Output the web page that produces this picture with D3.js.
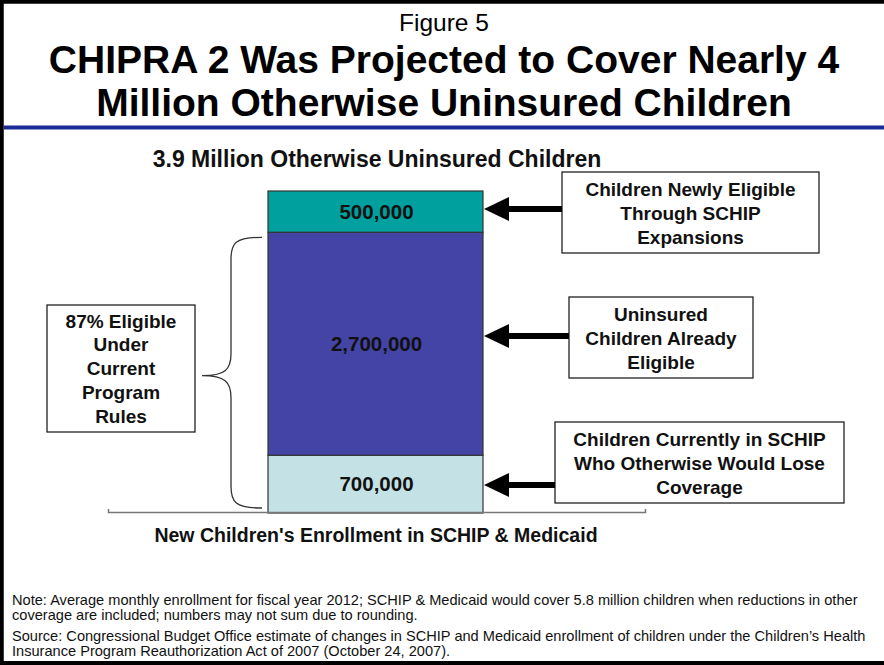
<!DOCTYPE html>
<html>
<head>
<meta charset="utf-8">
<script src="https://cdn.jsdelivr.net/npm/d3@7"></script>
<style>
  html, body { margin: 0; padding: 0; background: #fff; }
  svg { display: block; font-family: "Liberation Sans", Arial, sans-serif; }
</style>
</head>
<body>
<svg id="chart" width="884" height="665"></svg>
<script>
// Stacked enrollment components (millions of children), bottom to top
const segments = ["Currently in SCHIP", "Already Eligible", "Newly Eligible"];
const segmentValues = [0.7, 2.7, 0.5];
const segmentLabels = ["700,000", "2,700,000", "500,000"];
const segmentColors = ["#c4e2e5", "#4444a6", "#00a09f"];
const totalLabel = "3.9 Million Otherwise Uninsured Children";
const axisLabel = "New Children's Enrollment in SCHIP & Medicaid";

// Callout boxes on the right, one per segment (same order as segments)
const calloutLines = [
  ["Children Currently in SCHIP", "Who Otherwise Would Lose", "Coverage"],
  ["Uninsured", "Children Already", "Eligible"],
  ["Children Newly Eligible", "Through SCHIP", "Expansions"]
];
const calloutBoxes = [
  { x: 555, y: 422, w: 289, h: 81, arrowY: 485 },
  { x: 569, y: 297, w: 184, h: 81, arrowY: 336 },
  { x: 562, y: 172, w: 257, h: 81, arrowY: 209 }
];
const braceLines = ["87% Eligible", "Under", "Current", "Program", "Rules"];

const notes = [
  "Note: Average monthly enrollment for fiscal year 2012; SCHIP & Medicaid would cover 5.8 million children when reductions in other",
  "coverage are included; numbers may not sum due to rounding."
];
const sources = [
  "Source: Congressional Budget Office estimate of changes in SCHIP and Medicaid enrollment of children under the Children\u2019s Health",
  "Insurance Program Reauthorization Act of 2007 (October 24, 2007)."
];

const svg = d3.select("#chart");
const W = 884, H = 665;

// Frame
svg.append("rect").attr("x", 0).attr("y", 0).attr("width", W).attr("height", H).attr("fill", "#fff");
svg.append("path")
  .attr("d", `M${W},1.75 H1.75 V${H - 2} H${W}`)
  .attr("fill", "none").attr("stroke", "#000").attr("stroke-width", 4);

// Header
svg.append("text").attr("x", 444).attr("y", 31).attr("text-anchor", "middle")
  .attr("font-size", 24.5).attr("fill", "#000").text("Figure 5");
svg.append("text").attr("x", 444).attr("y", 73).attr("text-anchor", "middle")
  .attr("font-size", 39).attr("font-weight", "bold").attr("fill", "#000")
  .text("CHIPRA 2 Was Projected to Cover Nearly 4");
svg.append("text").attr("x", 444).attr("y", 116).attr("text-anchor", "middle")
  .attr("font-size", 39).attr("font-weight", "bold").attr("fill", "#000")
  .text("Million Otherwise Uninsured Children");
svg.append("rect").attr("x", 4).attr("y", 125).attr("width", W - 4).attr("height", 5).attr("fill", "#8a94c8");
svg.append("rect").attr("x", 4).attr("y", 126).attr("width", W - 4).attr("height", 3).attr("fill", "#1b2a96");

// Scales
const x = d3.scaleBand().domain(["New Children"]).range([268, 483]).padding(0);
const total = d3.sum(segmentValues);
const y = d3.scaleLinear().domain([0, total]).range([513, 191]);

const stackRow = {};
segments.forEach((s, i) => { stackRow[s] = segmentValues[i]; });
const stacked = d3.stack().keys(segments)([stackRow]);

const g = svg.append("g");
g.selectAll("rect.seg").data(stacked).join("rect")
  .attr("class", "seg")
  .attr("x", x("New Children"))
  .attr("width", x.bandwidth())
  .attr("y", d => y(d[0][1]))
  .attr("height", d => y(d[0][0]) - y(d[0][1]))
  .attr("fill", (d, i) => segmentColors[i])
  .attr("stroke", "#333").attr("stroke-width", 1.2);

g.selectAll("text.seglab").data(stacked).join("text")
  .attr("class", "seglab")
  .attr("x", x("New Children") + x.bandwidth() / 2 + 1)
  .attr("y", d => (y(d[0][0]) + y(d[0][1])) / 2 + 7)
  .attr("text-anchor", "middle")
  .attr("font-size", 20.5).attr("font-weight", "bold").attr("fill", "#111")
  .text((d, i) => segmentLabels[i]);

// Total label above the bar
svg.append("text").attr("x", 377).attr("y", 167).attr("text-anchor", "middle")
  .attr("font-size", 23).attr("font-weight", "bold").attr("fill", "#111").text(totalLabel);

// Baseline axis
const axisG = svg.append("g").attr("transform", `translate(0,${y(0)})`);
axisG.call(d3.axisBottom(d3.scaleLinear().domain([0, 1]).range([108, 645])).ticks(0).tickSizeOuter(4))
  .call(a => a.select(".domain").attr("stroke", "#777").attr("stroke-width", 1.5).attr("transform", "scale(1,-1)"));
svg.append("text").attr("x", 376).attr("y", 542).attr("text-anchor", "middle")
  .attr("font-size", 19.5).attr("font-weight", "bold").attr("fill", "#111").text(axisLabel);

// Callout boxes with arrows pointing to the bar
const barRight = x("New Children") + x.bandwidth();
calloutBoxes.forEach((b, i) => {
  svg.append("rect").attr("x", b.x).attr("y", b.y).attr("width", b.w).attr("height", b.h)
    .attr("fill", "#fff").attr("stroke", "#222").attr("stroke-width", 1.3);
  const lines = calloutLines[i];
  const cy = b.y + b.h / 2;
  lines.forEach((ln, j) => {
    svg.append("text").attr("x", b.x + b.w / 2).attr("y", cy + (j - (lines.length - 1) / 2) * 24 + 7)
      .attr("text-anchor", "middle").attr("font-size", 19).attr("font-weight", "bold")
      .attr("fill", "#111").text(ln);
  });
  svg.append("rect").attr("x", barRight + 22).attr("y", b.arrowY - 3)
    .attr("width", b.x - barRight - 22).attr("height", 6).attr("fill", "#000");
  svg.append("path")
    .attr("d", `M${barRight + 1},${b.arrowY} L${barRight + 26},${b.arrowY - 12} L${barRight + 26},${b.arrowY + 12} Z`)
    .attr("fill", "#000");
});

// Curly brace spanning the segments eligible under current rules
const bTop = y(segmentValues[0] + segmentValues[1]) + 5;
const bBot = y(0) - 5;
const bMid = (bTop + bBot) / 2 + 3;
const xEnd = 262, xV = 231, xTip = 202, r = 22;
svg.append("path")
  .attr("d", `M${xEnd},${bTop} C${xV + 4},${bTop} ${xV},${bTop + 6} ${xV},${bTop + r}
    L${xV},${bMid - r} C${xV},${bMid - 6} ${xV - 6},${bMid} ${xTip},${bMid}
    C${xV - 6},${bMid} ${xV},${bMid + 6} ${xV},${bMid + r}
    L${xV},${bBot - r} C${xV},${bBot - 6} ${xV + 4},${bBot} ${xEnd},${bBot}`)
  .attr("fill", "none").attr("stroke", "#333").attr("stroke-width", 1.3);

svg.append("rect").attr("x", 47).attr("y", 305).attr("width", 148).attr("height", 127)
  .attr("fill", "#fff").attr("stroke", "#222").attr("stroke-width", 1.3);
braceLines.forEach((ln, j) => {
  svg.append("text").attr("x", 121).attr("y", 368 + (j - 2) * 23.75 + 7)
    .attr("text-anchor", "middle").attr("font-size", 19).attr("font-weight", "bold")
    .attr("fill", "#111").text(ln);
});

// Footnotes
const foot = svg.append("g").attr("font-size", 14.6).attr("fill", "#111");
notes.forEach((t, i) => foot.append("text").attr("x", 12).attr("y", 605 + i * 14.5).text(t));
sources.forEach((t, i) => foot.append("text").attr("x", 12).attr("y", 641 + i * 14.5).text(t));
</script>
</body>
</html>
